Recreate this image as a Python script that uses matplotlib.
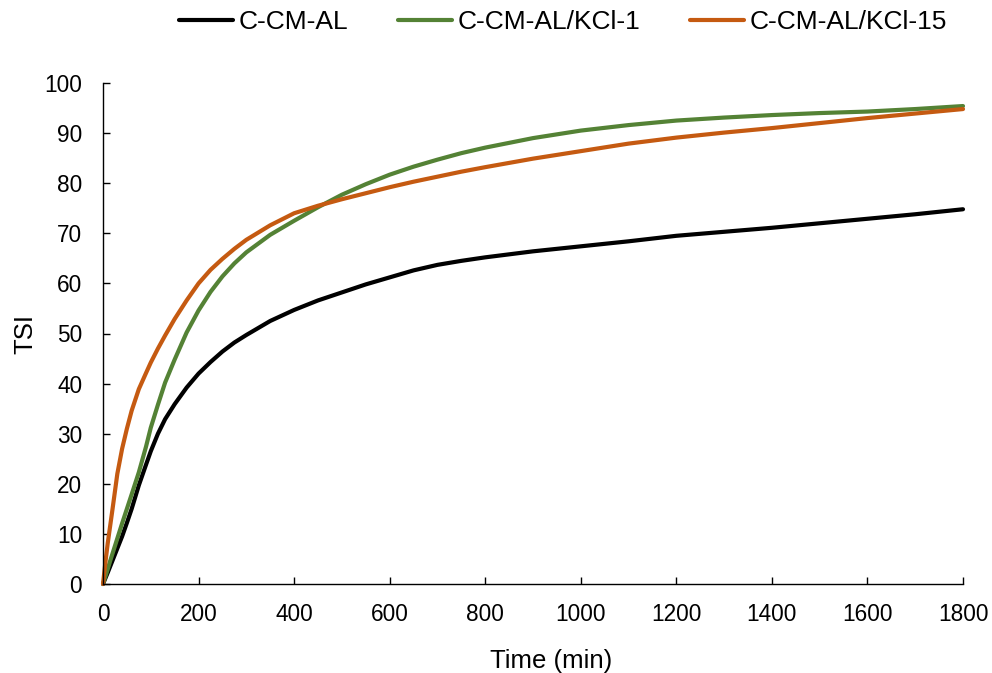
import matplotlib
matplotlib.use("Agg")
import matplotlib.pyplot as plt

plt.rcParams['font.family'] = ['Liberation Sans', 'DejaVu Sans']

time_min = [0, 5, 10, 15, 20, 30, 40, 50, 60, 75, 90, 100, 115, 130, 150, 175, 200,
            225, 250, 275, 300, 350, 400, 450, 500, 550, 600, 650, 700, 750, 800, 900,
            1000, 1100, 1200, 1300, 1400, 1500, 1600, 1700, 1800]

tsi_al = [0, 1.15, 2.3, 3.5, 4.7, 7.1, 9.5, 12.2, 15.0, 19.7, 23.8, 26.5, 30.0, 32.9,
          35.9, 39.2, 42.0, 44.3, 46.4, 48.2, 49.7, 52.5, 54.7, 56.6, 58.2, 59.8,
          61.2, 62.6, 63.7, 64.5, 65.2, 66.4, 67.4, 68.4, 69.5, 70.3, 71.1, 72.0,
          72.9, 73.8, 74.8]

tsi_kcl1 = [0, 1.5, 3.0, 4.6, 6.1, 9.1, 12.1, 15.0, 17.9, 22.3, 27.4, 31.2, 35.8,
            40.2, 44.8, 50.2, 54.6, 58.3, 61.4, 64.0, 66.2, 69.7, 72.5, 75.2, 77.7,
            79.8, 81.7, 83.3, 84.7, 86.0, 87.1, 89.0, 90.5, 91.6, 92.5, 93.1, 93.6,
            94.0, 94.3, 94.8, 95.4]

tsi_kcl15 = [0, 4.3, 8.2, 11.6, 15.0, 22.0, 27.0, 31.0, 34.6, 38.9, 42.1, 44.2, 47.0,
             49.6, 52.9, 56.6, 60.0, 62.7, 64.9, 66.9, 68.7, 71.6, 74.0, 75.5, 76.8,
             78.0, 79.2, 80.3, 81.3, 82.3, 83.2, 84.9, 86.4, 87.9, 89.1, 90.1, 91.0,
             92.0, 93.0, 93.9, 94.8]

series_labels = ["C-CM-AL", "C-CM-AL/KCl-1", "C-CM-AL/KCl-15"]
series_colors = ["#000000", "#548235", "#C55A11"]
x_ticks = [0, 200, 400, 600, 800, 1000, 1200, 1400, 1600, 1800]
y_ticks = [0, 10, 20, 30, 40, 50, 60, 70, 80, 90, 100]

fig = plt.figure(figsize=(9.92, 6.73), dpi=100)
ax = fig.add_axes([103/992, 1-584/673, 860/992, (584-83)/673])

for ys, lab, col in zip([tsi_al, tsi_kcl1, tsi_kcl15], series_labels, series_colors):
    ax.plot(time_min, ys, color=col, lw=3.0, label=lab, solid_capstyle='round',
            solid_joinstyle='round', clip_on=False)

ax.set_xlim(0, 1800)
ax.set_ylim(0, 100)
ax.set_xticks(x_ticks)
ax.set_yticks(y_ticks)
ax.tick_params(direction='in', length=5, width=1.0, labelsize=16.3)
ax.tick_params(axis='y', pad=15)
ax.tick_params(axis='x', pad=14)
for s in ['top', 'right']:
    ax.spines[s].set_visible(False)
for s in ['left', 'bottom']:
    ax.spines[s].set_linewidth(1.0)
    ax.spines[s].set_color('#000000')

ax.set_xlabel("Time (min)", fontsize=18.5)
ax.xaxis.set_label_coords((551 - 103) / 860, -(661 - 584) / 501)
ax.xaxis.label.set_verticalalignment('center')
ax.set_ylabel("TSI", fontsize=18.5)
ax.yaxis.set_label_coords(-(103 - 25) / 860, 0.5)
ax.yaxis.label.set_verticalalignment('center')

fig.legend(loc='center', bbox_to_anchor=(563/992, 1-22/673), ncol=3, frameon=False,
           fontsize=19, handlelength=2.05, handletextpad=0.2, columnspacing=1.9,
           borderaxespad=0)

fig.savefig("out.png", dpi=100)
